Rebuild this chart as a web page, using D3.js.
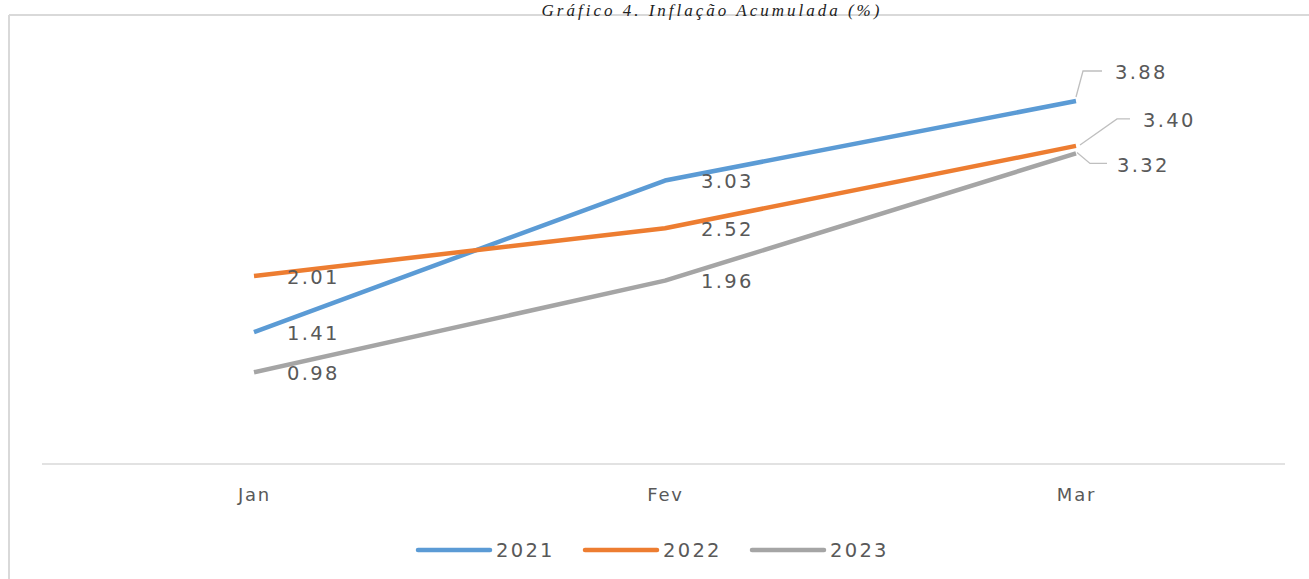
<!DOCTYPE html>
<html><head><meta charset="utf-8">
<script src="https://cdn.jsdelivr.net/npm/d3@7"></script>
<style>body{margin:0;background:#fff;overflow:hidden}</style>
</head><body>
<svg id="c" width="1309" height="579"></svg>
<script>
const categories = ["Jan", "Fev", "Mar"];
const seriesNames = ["2021", "2022", "2023"];
const values2021 = [1.41, 3.03, 3.88];
const values2022 = [2.01, 2.52, 3.40];
const values2023 = [0.98, 1.96, 3.32];
const title = "Gráfico 4. Inflação Acumulada (%)";

const colors = ["#5b9bd5", "#ed7d31", "#a5a5a5"];
const series = [values2021, values2022, values2023].map((v, i) => ({name: seriesNames[i], values: v, color: colors[i]}));

const svg = d3.select("#c");
// frame
svg.append("line").attr("x1", 9).attr("x2", 1309).attr("y1", 15).attr("y2", 15).attr("stroke", "#d9d9d9").attr("stroke-width", 2);
svg.append("line").attr("x1", 9).attr("x2", 9).attr("y1", 15).attr("y2", 579).attr("stroke", "#d9d9d9").attr("stroke-width", 2);

// title
svg.append("text").attr("x", 712).attr("y", 15.5).attr("text-anchor", "middle")
  .attr("font-family", "Liberation Serif").attr("font-style", "italic").attr("font-size", 17)
  .attr("letter-spacing", 3).attr("fill", "#222").text(title);

const x = d3.scalePoint().domain(categories).range([254, 1076]);
const y = d3.scaleLinear().domain([0, 4.5]).range([464, 43]);

// axis
const axis = d3.axisBottom(x).tickSize(0).tickPadding(24);
const ag = svg.append("g").attr("transform", "translate(0,464)").call(axis);
ag.select(".domain").remove();
svg.append("line").attr("x1", 42).attr("x2", 1285).attr("y1", y(0)).attr("y2", y(0)).attr("stroke", "#d9d9d9").attr("stroke-width", 1.5);
ag.selectAll("text").attr("font-family", "DejaVu Sans").attr("font-size", 18).attr("letter-spacing", 1.8)
  .attr("fill", "#595959").attr("dy", "0.32em").attr("y", 31);

const line = d3.line().x((d, i) => x(categories[i])).y(d => y(d));
series.forEach(s => {
  svg.append("path").datum(s.values).attr("d", line).attr("fill", "none")
    .attr("stroke", s.color).attr("stroke-width", 4.5).attr("stroke-linejoin", "round");
});

const fontLab = {"font-family": "DejaVu Sans", "font-size": 19.5, "letter-spacing": 2.3, "fill": "#595959"};
function lab(t, xx, yy) {
  const e = svg.append("text").attr("x", xx).attr("y", yy).attr("dy", "0.35em").text(t);
  Object.entries(fontLab).forEach(([k, v]) => e.attr(k, v));
}
// labels for Jan and Fev: to the right of point
series.forEach(s => {
  s.values.forEach((v, i) => {
    if (i < 2) lab(v.toFixed(2), x(categories[i]) + (i === 0 ? 33 : 36), y(v) + 1);
  });
});
// Mar labels with leader lines (offsets relative to point)
const marOffsets = [
  {lead: [[0, -4], [7, -30], [26, -30]], tx: 39, ty: -29},
  {lead: [[4, -1], [41, -27], [54, -27]], tx: 67, ty: -26},
  {lead: [[1, -1], [14, 10], [31, 10]], tx: 41, ty: 12}
];
series.forEach((s, i) => {
  const v = s.values[2], px = x(categories[2]), py = y(v), o = marOffsets[i];
  svg.append("path").attr("d", d3.line()(o.lead.map(p => [px + p[0], py + p[1]])))
    .attr("fill", "none").attr("stroke", "#bfbfbf").attr("stroke-width", 1.3);
  lab(v.toFixed(2), px + o.tx, py + o.ty);
});

// legend
const legX = [418, 585, 752];
series.forEach((s, i) => {
  svg.append("line").attr("x1", legX[i]).attr("x2", legX[i] + 72).attr("y1", 550).attr("y2", 550)
    .attr("stroke", s.color).attr("stroke-width", 4.5).attr("stroke-linecap", "round");
  const t = svg.append("text").attr("x", legX[i] + 78).attr("y", 550).attr("dy", "0.35em").text(s.name);
  Object.entries(fontLab).forEach(([k, v]) => t.attr(k, v));
});
</script>
</body></html>
